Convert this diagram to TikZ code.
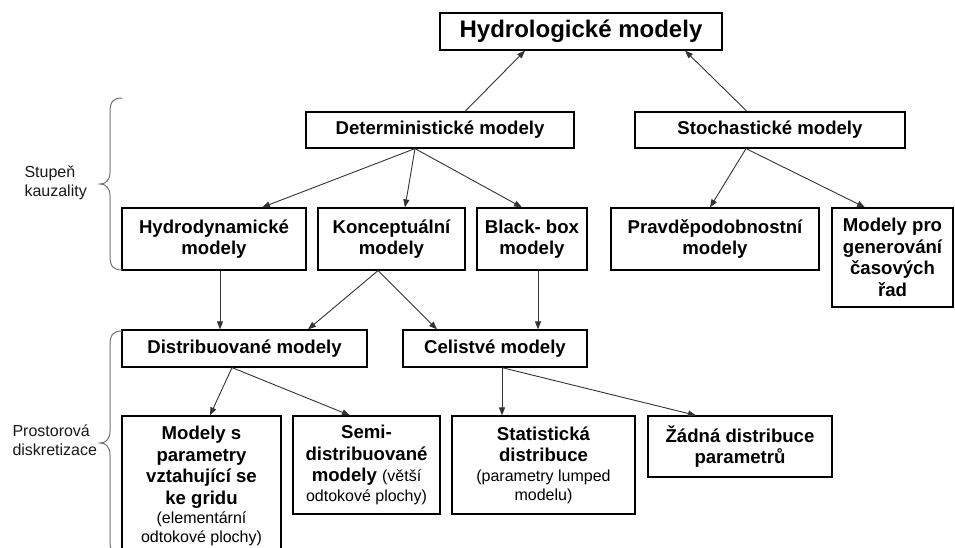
\documentclass[tikz,border=0pt]{standalone}
\usepackage{fontspec}
\setmainfont{Liberation Sans}
\usetikzlibrary{arrows.meta}
\newcommand\boxfont{\fontsize{18.6}{21.5}\selectfont\bfseries}
\newcommand\sm[1]{{\fontsize{16}{19}\selectfont\mdseries #1}}
\tikzset{
  box/.style={draw=black, line width=1.2pt, inner sep=0pt, align=center,
    font=\boxfont, text=black},
  conn/.style={draw=black!80, line width=0.9pt,
    -{Triangle[length=8pt,width=6pt]}},
  brace/.style={draw=black!55, line width=1pt},
  side/.style={align=left, anchor=west, font=\fontsize{16}{19}\selectfont, text=black!90},
}
\begin{document}
\begin{tikzpicture}[x=1pt,y=-1pt]
\useasboundingbox (0,0) rectangle (955,547);
% boxes
\node[box, minimum width=282pt, minimum height=37pt, font=\fontsize{24}{28}\selectfont\bfseries] (hydro) at (581,31.5) {Hydrologické modely};
\node[box, minimum width=268pt, minimum height=36pt] (det) at (440,130) {Deterministické modely};
\node[box, minimum width=270pt, minimum height=36pt] (sto) at (770,130) {Stochastické modely};
\node[box, minimum width=184pt, minimum height=62pt] (hyd) at (214,239) {Hydrodynamické\\modely};
\node[box, minimum width=147pt, minimum height=62pt] (kon) at (391.5,239) {Konceptuální\\modely};
\node[box, minimum width=110pt, minimum height=62pt] (bb) at (532,239) {Black- box\\modely};
\node[box, minimum width=208pt, minimum height=62pt] (pra) at (715,239) {Pravděpodobnostní\\modely};
\node[box, minimum width=121pt, minimum height=99pt] (gen) at (892.5,257.5) {Modely pro\\generování\\časových\\řad};
\node[box, minimum width=245pt, minimum height=37pt] (dis) at (244.5,348.5) {Distribuované modely};
\node[box, minimum width=184pt, minimum height=37pt] (cel) at (495,348.5) {Celistvé modely};
\node[box, minimum width=159pt, minimum height=140pt] (grid) at (201.5,486) {Modely s\\parametry\\vztahující se\\ke gridu\\[-2pt]\sm{(elementární}\\[-2.5pt]\sm{odtokové plochy)}};
\node[box, minimum width=147pt, minimum height=98pt] (semi) at (366.5,465) {Semi-\\distribuované\\modely \sm{(větší}\\[-2pt]\sm{odtokové plochy)}};
\node[box, minimum width=183pt, minimum height=98pt] (stat) at (543.5,465) {Statistická\\distribuce\\[-2pt]\sm{(parametry lumped}\\[-2.5pt]\sm{modelu)}};
\node[box, minimum width=184pt, minimum height=61pt] (zad) at (740,446.5) {Žádná distribuce\\parametrů};
% side labels
\node[side] (kauz) at (21,183) {Stupeň\\kauzality};
\node[side] (disk) at (9,440) {Prostorová\\diskretizace};
% braces
\draw[brace] (122,98) .. controls (113,98) and (110,102) .. (110,112) -- (110,172)
  .. controls (110,180) and (106,184) .. (100,184)
  .. controls (106,184) and (110,188) .. (110,196) -- (110,256)
  .. controls (110,266) and (113,270) .. (122,270);
\draw[brace] (122,331) .. controls (113,331) and (110,335) .. (110,345) -- (110,431)
  .. controls (110,439) and (106,443) .. (100,443)
  .. controls (106,443) and (110,447) .. (110,455) -- (110,541)
  .. controls (110,551) and (113,555) .. (122,555);
% connectors
\draw[conn] ([xshift=25pt]det.north) -- ([xshift=-56pt]hydro.south);
\draw[conn] ([xshift=-23pt]sto.north) -- ([xshift=104pt]hydro.south);
\draw[conn] ([xshift=-25pt]det.south) -- ([xshift=48pt]hyd.north);
\draw[conn] ([xshift=-25pt]det.south) -- ([xshift=13.5pt]kon.north);
\draw[conn] ([xshift=-25pt]det.south) -- ([xshift=-10pt]bb.north);
\draw[conn] ([xshift=-24pt]sto.south) -- ([xshift=-5pt]pra.north);
\draw[conn] ([xshift=-24pt]sto.south) -- ([xshift=-27.5pt]gen.north);
\draw[conn] ([xshift=6pt]hyd.south) -- ([xshift=-24.5pt]dis.north);
\draw[conn] ([xshift=-13.5pt]kon.south) -- ([xshift=63.5pt]dis.north);
\draw[conn] ([xshift=-13.5pt]kon.south) -- ([xshift=-58pt]cel.north);
\draw[conn] ([xshift=6pt]bb.south) -- ([xshift=43pt]cel.north);
\draw[conn] ([xshift=-12.5pt]dis.south) -- ([xshift=8.5pt]grid.north);
\draw[conn] ([xshift=-12.5pt]dis.south) -- ([xshift=-16.5pt]semi.north);
\draw[conn] ([xshift=7pt]cel.south) -- ([xshift=-41.5pt]stat.north);
\draw[conn] ([xshift=7pt]cel.south) -- ([xshift=-44pt]zad.north);
\end{tikzpicture}
\end{document}
